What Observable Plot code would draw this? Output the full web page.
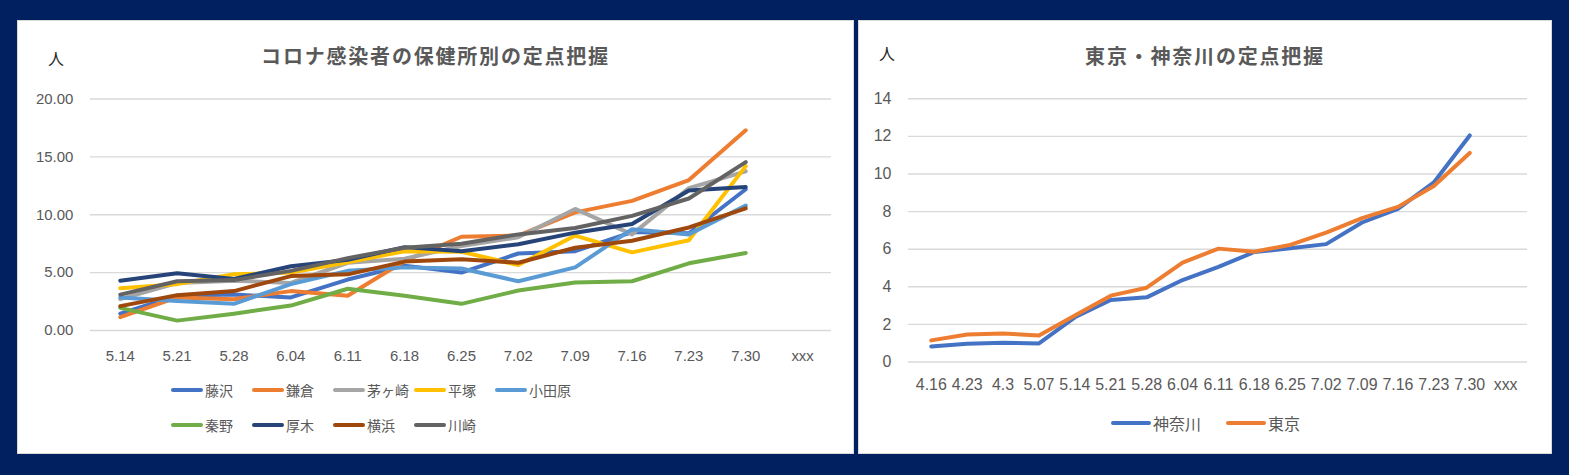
<!DOCTYPE html>
<html><head><meta charset="utf-8">
<script src="https://cdn.jsdelivr.net/npm/d3@7"></script>
<script src="https://cdn.jsdelivr.net/npm/@observablehq/plot@0.6"></script>
<style>
html,body{margin:0;padding:0;}
body{background:#002060;width:1569px;height:475px;overflow:hidden;position:relative;font-family:"Liberation Sans","Noto Sans CJK JP",sans-serif;}
.panel{position:absolute;background:#fff;border:1px solid #d9d9d9;box-sizing:border-box;}
.panel svg{position:absolute;left:0;top:0;}
.title{position:absolute;left:0;right:0;text-align:center;font-family:"Noto Sans CJK JP",sans-serif;font-weight:bold;font-size:20px;color:#595959;letter-spacing:1.8px;line-height:1;}
.unit{position:absolute;font-family:"Noto Sans CJK JP",sans-serif;font-size:16px;color:#262626;line-height:1;}
.lg{position:absolute;display:flex;align-items:center;font-family:"Noto Sans CJK JP",sans-serif;color:#595959;line-height:1;white-space:nowrap;}
.sw{display:inline-block;height:4px;border-radius:2px;margin-right:2px;}
</style></head><body>
<div id="p1" class="panel" style="left:17px;top:20px;width:837px;height:434px"></div>
<div id="p2" class="panel" style="left:858px;top:20px;width:694px;height:434px"></div>
<script>
// ---- Left chart data ----
const leftTitle = "コロナ感染者の保健所別の定点把握";
const leftDates = ["5.14","5.21","5.28","6.04","6.11","6.18","6.25","7.02","7.09","7.16","7.23","7.30","xxx"];
const leftSeries = ["藤沢","鎌倉","茅ヶ崎","平塚","小田原","秦野","厚木","横浜","川崎"];
const leftColors = ["#4472C4","#ED7D31","#A5A5A5","#FFC000","#5B9BD5","#70AD47","#264478","#9E480E","#636363"];
const fujisawa  = [1.45,3.0,3.1,2.85,4.4,5.6,5.0,6.65,6.85,8.5,8.4,12.2];
const kamakura  = [1.15,2.85,2.7,3.4,3.0,6.0,8.1,8.2,10.2,11.2,13.0,17.3];
const chigasaki = [2.7,4.1,4.3,4.1,5.85,6.2,7.3,8.05,10.5,8.3,12.3,13.75];
const hiratsuka = [3.65,4.0,4.85,5.0,5.9,6.85,6.8,5.65,8.2,6.75,7.8,14.2];
const odawara   = [2.85,2.55,2.3,4.0,5.15,5.45,5.35,4.25,5.45,8.75,8.3,10.8];
const hadano    = [1.95,0.85,1.45,2.15,3.6,3.0,2.3,3.45,4.15,4.25,5.8,6.7];
const atsugi    = [4.3,4.95,4.45,5.55,6.1,7.2,6.85,7.45,8.45,9.2,12.1,12.4];
const yokohama  = [2.1,3.05,3.4,4.7,4.85,5.95,6.15,5.85,7.15,7.75,8.9,10.55];
const kawasaki  = [3.1,4.25,4.35,5.15,6.25,7.15,7.5,8.3,8.85,9.9,11.4,14.55];
const leftValues = [fujisawa,kamakura,chigasaki,hiratsuka,odawara,hadano,atsugi,yokohama,kawasaki];
const leftYTicks = [0,5,10,15,20];

// ---- Right chart data ----
const rightTitle = "東京・神奈川の定点把握";
const rightDates = ["4.16","4.23","4.3","5.07","5.14","5.21","5.28","6.04","6.11","6.18","6.25","7.02","7.09","7.16","7.23","7.30","xxx"];
const rightSeries = ["神奈川","東京"];
const rightColors = ["#4472C4","#ED7D31"];
const kanagawa = [0.83,0.97,1.03,0.99,2.38,3.3,3.44,4.36,5.06,5.85,6.05,6.27,7.42,8.15,9.55,12.05];
const tokyo    = [1.15,1.46,1.52,1.41,2.47,3.53,3.95,5.29,6.03,5.87,6.23,6.88,7.65,8.25,9.36,11.12];
const rightValues = [kanagawa,tokyo];
const rightYTicks = [0,2,4,6,8,10,12,14];

function tidy(series, dates, values){
  return series.flatMap((s,i)=>values[i].map((v,j)=>({series:s,date:dates[j],value:v})));
}

function makeChart(o){
  const data = tidy(o.series,o.dates,o.values);
  return Plot.plot({
    width:o.width, height:o.height,
    marginLeft:o.ml, marginRight:o.mr, marginTop:o.mt, marginBottom:o.mb,
    style:{fontFamily:o.font,fontSize:o.fontSize,color:"#595959",background:"transparent",overflow:"visible"},
    x:{type:"point",domain:o.dates,padding:0.5,label:null},
    y:{domain:[o.ticks[0],o.ticks[o.ticks.length-1]],label:null},
    color:{domain:o.series,range:o.colors},
    marks:[
      Plot.gridY(o.ticks,{stroke:"#d9d9d9",strokeOpacity:1,strokeWidth:1.4}),
      Plot.axisY(o.ticks,{tickSize:0,tickPadding:o.yPad,tickFormat:o.fmt,label:null}),
      Plot.axisX({tickSize:0,tickPadding:o.xPad,label:null}),
      Plot.lineY(data,{x:"date",y:"value",z:"series",stroke:"series",strokeWidth:4,strokeLinecap:"round",strokeLinejoin:"round"})
    ]
  });
}

function addText(panel,cls,text,style){
  const d=document.createElement("div");d.className=cls;d.textContent=text;Object.assign(d.style,style);panel.appendChild(d);return d;
}
function addLegendItem(panel,name,color,left,top,swW,fs){
  const d=document.createElement("div");d.className="lg";
  d.style.left=left+"px";d.style.top=top+"px";d.style.fontSize=fs+"px";
  const s=document.createElement("span");s.className="sw";s.style.width=swW+"px";s.style.background=color;
  const t=document.createElement("span");t.textContent=name;
  d.appendChild(s);d.appendChild(t);panel.appendChild(d);
}

// ---- Left panel ----
const p1=document.getElementById("p1");
p1.appendChild(makeChart({series:leftSeries,dates:leftDates,values:leftValues,colors:leftColors,ticks:leftYTicks,
  fmt:d3.format(".2f"),width:837,height:360,ml:72,mr:22,mt:77.7,mb:50.3,yPad:17,xPad:20,
  font:"'Liberation Sans',sans-serif",fontSize:"15px"}));
addText(p1,"title",leftTitle,{top:"25px"});
addText(p1,"unit","人",{left:"30px",top:"29px"});
const lgX=[153,234,315,396,477];
leftSeries.forEach((s,i)=>{
  const row=i<5?0:1, col=i<5?i:i-5;
  addLegendItem(p1,s,leftColors[i],lgX[col],row===0?362:397,32,14);
});

// ---- Right panel ----
const p2=document.getElementById("p2");
p2.appendChild(makeChart({series:rightSeries,dates:rightDates,values:rightValues,colors:rightColors,ticks:rightYTicks,
  fmt:d3.format("d"),width:694,height:390,ml:49,mr:24,mt:77.5,mb:48.5,yPad:17,xPad:17,
  font:"'Liberation Sans',sans-serif",fontSize:"16px"}));
addText(p2,"title",rightTitle,{top:"25px"});
addText(p2,"unit","人",{left:"20px",top:"24px"});
addLegendItem(p2,"神奈川",rightColors[0],252,394,40,16);
addLegendItem(p2,"東京",rightColors[1],367,394,40,16);
</script>
</body></html>
